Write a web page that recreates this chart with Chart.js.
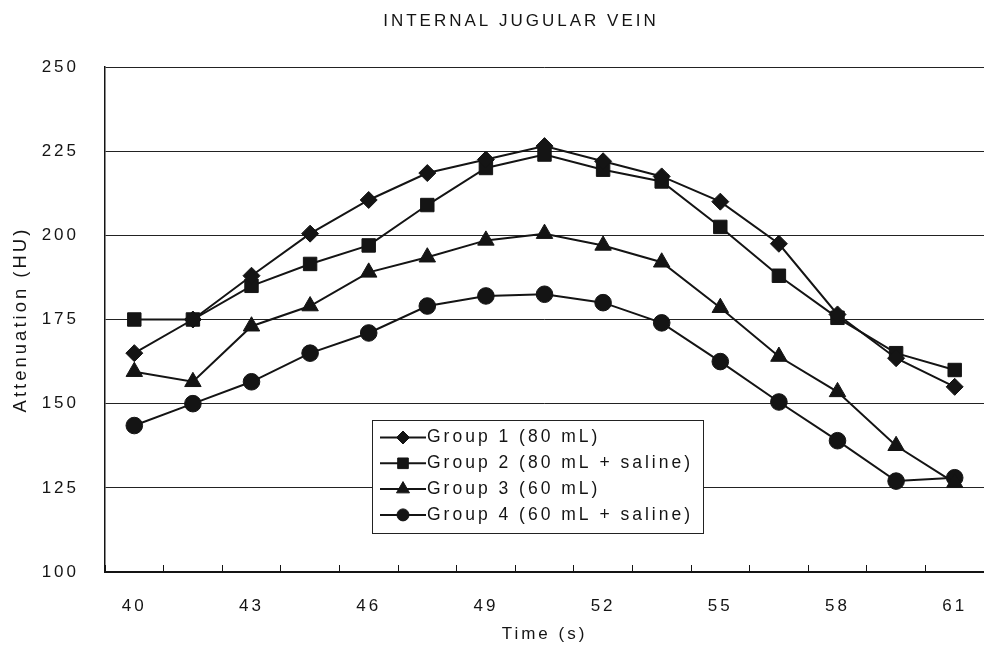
<!DOCTYPE html>
<html>
<head>
<meta charset="utf-8">
<title>Internal jugular vein</title>
<script src="https://cdn.jsdelivr.net/npm/chart.js@4.4.0/dist/chart.umd.min.js"></script>
<style>
  html, body { margin: 0; padding: 0; background: #fff; }
  canvas { display: block; }
</style>
</head>
<body>
<canvas id="grafico" width="984" height="647"></canvas>
<script>
// dados (HU por tempo)
const tempos = ['40', '41.5', '43', '44.5', '46', '47.5', '49', '50.5', '52', '53.5', '55', '56.5', '58', '59.5', '61'];
const grupo1 = [165, 175, 188, 200.5, 210.5, 218.5, 222.5, 226.5, 222, 217.5, 210, 197.5, 176.5, 163.5, 155];
const grupo2 = [175, 175, 185, 191.5, 197, 209, 220, 224, 219.5, 216, 202.5, 188, 175.5, 165, 160];
const grupo3 = [159.5, 156.5, 173, 179, 189, 193.5, 198.5, 200.5, 197, 192, 178.5, 164, 153.5, 137.5, 126.5];
const grupo4 = [143.5, 150, 156.5, 165, 171, 179, 182, 182.5, 180, 174, 162.5, 150.5, 139, 127, 128];
const nomes = ['Group 1 (80 mL)', 'Group 2 (80 mL + saline)', 'Group 3 (60 mL)', 'Group 4 (60 mL + saline)'];
const yTicks = [100, 125, 150, 175, 200, 225, 250];

const FONTE = '"Liberation Sans", Arial, Helvetica, sans-serif';
const PRETO = '#141414';

function serie(label, data, estilo, raio, raioLegenda) {
    return {
        label: label,
        data: data,
        borderColor: PRETO,
        backgroundColor: PRETO,
        borderWidth: 2,
        pointStyle: estilo,
        pointRadius: raio,
        pointBackgroundColor: PRETO,
        pointBorderColor: PRETO,
        pointBorderWidth: 1,
        tension: 0,
        legendRadius: raioLegenda
    };
}

// espaçamento das letras (o original é bem "largo")
const espacamento = {
    id: 'espacamento',
    beforeLayout(chart) { chart.ctx.letterSpacing = '3px'; },
    beforeDraw(chart) { chart.ctx.letterSpacing = '3px'; }
};

// título e legenda desenhados à mão, na posição do original
const moldura = {
    id: 'moldura',
    afterDraw(chart) {
        const ctx = chart.ctx;
        ctx.save();
        ctx.letterSpacing = '3px';
        ctx.fillStyle = PRETO;
        ctx.font = '17px ' + FONTE;
        ctx.textAlign = 'center';
        ctx.textBaseline = 'middle';
        ctx.fillText('INTERNAL JUGULAR VEIN', 521, 21);

        // caixa da legenda
        const caixa = { left: 372, top: 420, right: 703, bottom: 533 };
        ctx.fillStyle = '#fff';
        ctx.fillRect(caixa.left, caixa.top, caixa.right - caixa.left, caixa.bottom - caixa.top);
        ctx.strokeStyle = '#222';
        ctx.lineWidth = 1;
        ctx.strokeRect(caixa.left + 0.5, caixa.top + 0.5, caixa.right - caixa.left, caixa.bottom - caixa.top);

        chart.data.datasets.forEach((ds, i) => {
            const y = 437.5 + i * 25.8;
            ctx.strokeStyle = PRETO;
            ctx.lineWidth = 2;
            ctx.beginPath();
            ctx.moveTo(380, y);
            ctx.lineTo(426, y);
            ctx.stroke();
            ctx.fillStyle = PRETO;
            ctx.lineWidth = 1;
            Chart.helpers.drawPoint(ctx, {
                pointStyle: ds.pointStyle,
                radius: ds.legendRadius,
                borderWidth: 1,
                rotation: 0
            }, 403, y);
            ctx.fillStyle = PRETO;
            ctx.textAlign = 'left';
            ctx.textBaseline = 'middle';
            ctx.font = '17.5px ' + FONTE;
            ctx.fillText(ds.label, 427, y);
        });
        ctx.restore();
    }
};

const ctx = document.getElementById('grafico').getContext('2d');
new Chart(ctx, {
    type: 'line',
    data: {
        labels: tempos,
        datasets: [
            serie(nomes[0], grupo1, 'rectRot', 8.5, 6.5),
            serie(nomes[1], grupo2, 'rect', 9.5, 7.5),
            serie(nomes[2], grupo3, 'triangle', 9.5, 7.5),
            serie(nomes[3], grupo4, 'circle', 8.3, 6)
        ]
    },
    options: {
        responsive: false,
        animation: false,
        devicePixelRatio: 1,
        layout: { autoPadding: false, padding: { top: 67, right: 0, bottom: 0, left: 0 } },
        plugins: {
            legend: { display: false },
            title: { display: false },
            tooltip: { enabled: false }
        },
        scales: {
            x: {
                type: 'category',
                offset: true,
                grid: {
                    offset: true,
                    drawOnChartArea: false,
                    drawTicks: true,
                    tickLength: -7,
                    tickColor: PRETO,
                    tickWidth: 1
                },
                border: { color: PRETO, width: 2 },
                ticks: {
                    autoSkip: false,
                    maxRotation: 0,
                    padding: 31,
                    color: PRETO,
                    font: { family: FONTE, size: 17 },
                    callback: function (valor, i) {
                        return i % 2 === 0 ? this.getLabelForValue(valor) : '';
                    }
                },
                title: {
                    display: true,
                    text: 'Time (s)',
                    color: PRETO,
                    font: { family: FONTE, size: 17 },
                    padding: { top: 0, bottom: 2 }
                },
                afterFit(s) {
                    s.height = 75;
                    s.paddingLeft = 0;
                    s.paddingRight = 0;
                }
            },
            y: {
                min: yTicks[0],
                max: yTicks[yTicks.length - 1],
                ticks: {
                    stepSize: 25,
                    padding: 26,
                    color: PRETO,
                    font: { family: FONTE, size: 17 }
                },
                grid: {
                    color: '#222',
                    lineWidth: 1,
                    drawTicks: false
                },
                border: { color: PRETO, width: 1.5 },
                title: {
                    display: true,
                    text: 'Attenuation (HU)',
                    color: PRETO,
                    font: { family: FONTE, size: 18.5 },
                    padding: { top: 10, bottom: 0 }
                },
                afterFit(s) {
                    s.width = 105;
                }
            }
        }
    },
    plugins: [espacamento, moldura]
});
</script>
</body>
</html>
